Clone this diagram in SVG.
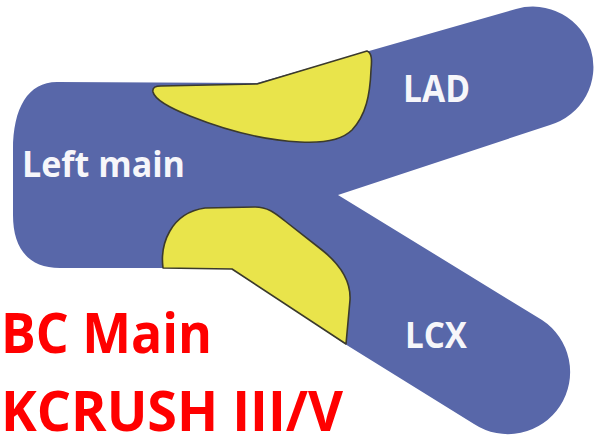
<svg xmlns="http://www.w3.org/2000/svg" width="595" height="435" viewBox="0 0 595 435">
  <style>
    .vessel { fill: #5867a9; }
    .plaque { fill: #e9e44b; stroke: #3b3a2c; stroke-width: 1.6; stroke-linejoin: round; }
    .label { font-family: "Open Sans", "Liberation Sans", sans-serif; font-weight: bold; fill: #f6f6fa; }
    .title { font-family: "Open Sans", "Liberation Sans", sans-serif; font-weight: bold; fill: #ff0000; }
  </style>
  <rect width="595" height="435" fill="#ffffff"/>

  <!-- Left main bifurcating into LAD and LCX -->
  <g id="vessel">
    <path class="vessel" d="M 57,82 L 257,83 L 516,9 A 60.4,60.4 0 0 1 550,125 L 338,195 L 542,320 A 62,62 0 0 1 474,424 L 345,344 L 232,268 L 60,268 C 28,268 13,248 13,215 L 13,150 C 13,108 28,82 57,82 Z"/>
  </g>

  <!-- Plaque at the LAD ostium -->
  <g id="plaque-lad">
    <path class="plaque" d="M 153,92 C 152,87 156,86 161,86 L 257,84 L 367,51 C 372,53 372,60 371,70 C 370,95 366,115 352,130 C 340,142 318,143 300,142 C 260,140 220,128 190,116 C 170,108 155,100 153,92 Z"/>
  </g>

  <!-- Plaque at the LCX ostium -->
  <g id="plaque-lcx">
    <path class="plaque" d="M 163,268 C 160,245 170,213 205,208 L 255,207 C 268,207 275,213 285,221 L 322,250 C 342,266 351,282 350,300 L 346,344 L 232,269 Z"/>
  </g>

  <g id="label-left-main">
    <text class="label" x="22" y="177" font-size="36" textLength="163" lengthAdjust="spacingAndGlyphs">Left main</text>
  </g>
  <g id="label-lad">
    <text class="label" x="403" y="102" font-size="37" textLength="67" lengthAdjust="spacingAndGlyphs">LAD</text>
  </g>
  <g id="label-lcx">
    <text class="label" x="405" y="348" font-size="36" textLength="62" lengthAdjust="spacingAndGlyphs">LCX</text>
  </g>

  <g id="title">
    <text class="title" x="1" y="353" font-size="56" textLength="211" lengthAdjust="spacingAndGlyphs">BC Main</text>
    <text class="title" x="1" y="431" font-size="55" textLength="342" lengthAdjust="spacingAndGlyphs">KCRUSH III/V</text>
  </g>
</svg>
